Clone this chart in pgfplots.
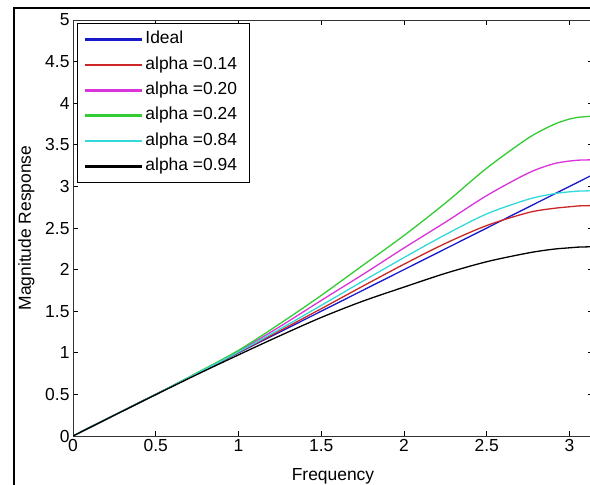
\documentclass[border=0pt]{standalone}
\usepackage{fontspec}
\setmainfont{Liberation Sans}
\usepackage{pgfplots}
\pgfplotsset{compat=1.18}

\definecolor{mblue}{rgb}{0.10,0.10,0.80}
\definecolor{mred}{rgb}{0.80,0.15,0.15}
\definecolor{mmag}{rgb}{0.85,0.20,0.85}
\definecolor{mgreen}{rgb}{0.20,0.80,0.20}
\definecolor{mcyan}{rgb}{0.20,0.85,0.85}

\begin{document}
\begin{tikzpicture}
\useasboundingbox (0,0) rectangle (590bp,485bp);
\clip (0,0) rectangle (590bp,485bp);
\fill[white] (0,0) rectangle (590bp,485bp);
% frame of the screenshot
\draw[line width=2.5bp] (14bp,-5bp) -- (14bp,477bp) -- (600bp,477bp);

\begin{axis}[
    at={(73bp,49bp)}, anchor=south west,
    scale only axis,
    width=520bp, height=416bp,
    xmin=0, xmax=3.14159, ymin=0, ymax=5,
    xtick={0,0.5,1,1.5,2,2.5,3},
    ytick={0,0.5,1,1.5,2,2.5,3,3.5,4,4.5,5},
    tick align=inside,
    major tick length=5bp,
    every tick/.style={black, line width=0.7bp},
    axis line style={line width=0.8bp, black!80},
    font=\fontsize{17.5}{21}\selectfont,
    /pgf/number format/assume math mode=true,
    xlabel={Frequency},
    ylabel={Magnitude Response},
    xlabel style={at={(axis description cs:0.5,-0.1058)}, anchor=base},
    ylabel style={at={(axis description cs:-0.0808,0.5)}, anchor=base},
    legend cell align=left,
    % legend sample as a thin filled bar
    legend image code/.code={\fill[#1] (0bp,-0.6bp) rectangle (55bp,0.6bp);},
    legend style={at={(axis description cs:0,1)}, anchor=north west,
        xshift=4bp, yshift=-3bp, draw, line width=0.7bp,
        inner xsep=8bp, inner ysep=3.5bp, row sep=0pt,
        nodes={inner xsep=3.8bp, inner ysep=3.95bp, text height=13bp, text depth=4.5bp},
        font=\fontsize{17.5}{21}\selectfont},
]

\addplot[mblue, line width=1.3bp] coordinates {(0,0) (3.1416,3.1416)};
\addlegendentry{Ideal}

\addplot[mred, line width=1.3bp, smooth] coordinates {
(0,0) (0.25,0.25) (0.5,0.5) (0.75,0.751) (1.0,1.005) (1.25,1.265)
(1.5,1.53) (1.75,1.80) (2.0,2.065) (2.25,2.315) (2.5,2.53) (2.75,2.685)
(2.9,2.735) (3.0,2.755) (3.05,2.765) (3.1416,2.77)};
\addlegendentry{alpha =0.14}

\addplot[mmag, line width=1.3bp, smooth] coordinates {
(0,0) (0.25,0.25) (0.5,0.5) (0.75,0.755) (1.0,1.02) (1.25,1.315)
(1.5,1.63) (1.75,1.94) (2.0,2.26) (2.25,2.57) (2.5,2.89) (2.75,3.16)
(2.9,3.27) (3.0,3.305) (3.05,3.315) (3.1416,3.32)};
\addlegendentry{alpha =0.20}

\addplot[mgreen, line width=1.3bp, smooth] coordinates {
(0,0) (0.25,0.25) (0.5,0.5) (0.75,0.76) (1.0,1.03) (1.25,1.35)
(1.5,1.69) (1.75,2.05) (2.0,2.41) (2.25,2.80) (2.5,3.22) (2.75,3.58)
(2.9,3.74) (3.0,3.81) (3.05,3.83) (3.1416,3.845)};
\addlegendentry{alpha =0.24}

\addplot[mcyan, line width=1.3bp, smooth] coordinates {
(0,0) (0.25,0.25) (0.5,0.5) (0.75,0.752) (1.0,1.01) (1.25,1.285)
(1.5,1.57) (1.75,1.86) (2.0,2.145) (2.25,2.42) (2.5,2.67) (2.75,2.845)
(2.9,2.91) (3.0,2.935) (3.05,2.943) (3.1416,2.948)};
\addlegendentry{alpha =0.84}

\addplot[black, line width=1.3bp, smooth] coordinates {
(0,0) (0.25,0.25) (0.5,0.497) (0.75,0.74) (1.0,0.975) (1.25,1.205)
(1.5,1.425) (1.75,1.62) (2.0,1.79) (2.25,1.955) (2.5,2.095) (2.75,2.20)
(2.9,2.245) (3.0,2.262) (3.05,2.27) (3.1416,2.275)};
\addlegendentry{alpha =0.94}

\end{axis}
\end{tikzpicture}
\end{document}
